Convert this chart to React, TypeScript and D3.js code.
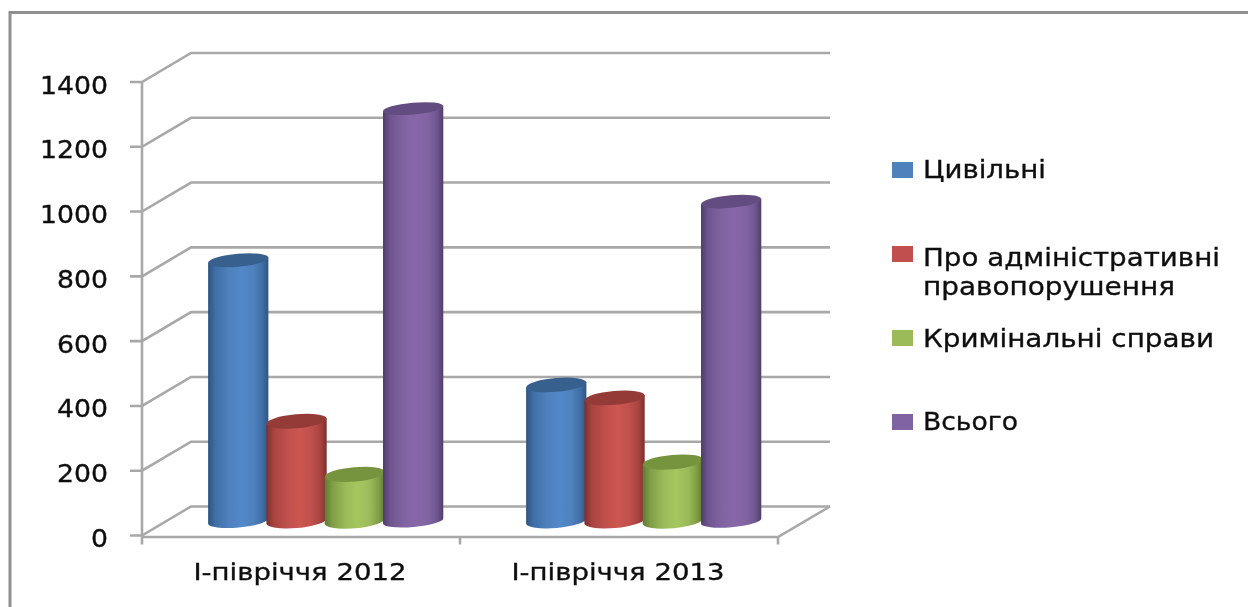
import React from "react";
import * as d3 from "d3";

const categories = ["І-півріччя 2012", "І-півріччя 2013"];
const seriesNames = ["Цивільні", "Про адміністративні правопорушення", "Кримінальні справи", "Всього"];
const civil = [805, 420];
const admin = [308, 380];
const criminal = [144, 182];
const total = [1273, 986];
const seriesValues = [civil, admin, criminal, total];
const tickValues = [0, 200, 400, 600, 800, 1000, 1200, 1400];
const base = ["#4f81bd", "#c0504d", "#9bbb59", "#8064a2"];
const light = ["#5288ca", "#cd5650", "#a5c65e", "#8866a9"];
const mid = ["#3f6ea6", "#a8433f", "#7f9c46", "#6f5690"];
const dark = ["#2f5480", "#7c2f2d", "#5f7a33", "#4f3d68"];
const topCol = ["#38618f", "#943a37", "#76933c", "#644d80"];

const W = 1248, H = 607;
const frontX0 = 142, frontX1 = 778;
const depthX = 49, depthY = -29;
const y = d3.scaleLinear().domain([0, 1400]).range([535.5, 82]);
const xGroup = d3.scaleBand<string>().domain(categories).range([frontX0, frontX1]);
const barW = 60.5;
const barOffsetX = 66;
const barDepthY = -14.5;
const legendY = [170, 254, 338, 422];
const legendBase = [[177.5], [266, 295], [347], [430]];
const legendLines = [["Цивільні"], ["Про адміністративні", "правопорушення"], ["Кримінальні справи"], ["Всього"]];
const legendW = [[123], [297, 252], [291], [95]];
const gridC = "#a8a8a8";
const fontF = "'DejaVu Sans', Verdana, sans-serif";
const tilt = -5;

export default function App() {
  const line = d3.line();
  const ticksX = [frontX0, ...categories.map((c) => (xGroup(c) as number) + xGroup.bandwidth())];
  const rad = (tilt * Math.PI) / 180;
  return (
    <svg width={W} height={H} viewBox={`0 0 ${W} ${H}`}
      style={{ position: "absolute", left: 0, top: 0, background: "#fff" }}>
      <defs>
        {base.map((_, i) => (
          <linearGradient key={i} id={`g${i}`} x1="0" x2="1" y1="0" y2="0">
            <stop offset="0" stopColor={dark[i]} />
            <stop offset="0.12" stopColor={mid[i]} />
            <stop offset="0.35" stopColor={base[i]} />
            <stop offset="0.55" stopColor={light[i]} />
            <stop offset="0.75" stopColor={base[i]} />
            <stop offset="0.9" stopColor={mid[i]} />
            <stop offset="1" stopColor={dark[i]} />
          </linearGradient>
        ))}
        <filter id="soft" x="-5%" y="-5%" width="110%" height="110%">
          <feGaussianBlur stdDeviation="0.5" />
        </filter>
      </defs>
      <path d={`M10,607 L10,12.5 L1248,12.5`} fill="none" stroke="#8f8f8f" strokeWidth={3} />
      <g stroke={gridC} strokeWidth={2.6} fill="none" filter="url(#soft)">
        <path d={line([[frontX0, y(0) + 1], [frontX0, y(1400)]]) as string} />
        {tickValues.map((t) => (
          <path key={t} d={line([[frontX0 - 12, y(t)], [frontX0, y(t)], [frontX0 + depthX, y(t) + depthY], [830, y(t) + depthY]]) as string} />
        ))}
        <path d={line([[frontX0, y(0) + 1.5], [frontX1, y(0) + 1.5], [830, y(0) + depthY]]) as string} />
        {ticksX.map((t) => (
          <path key={t} d={line([[t, y(0) + 1], [t, y(0) + 9]]) as string} />
        ))}
      </g>
      {categories.map((c, ci) =>
        seriesValues.map((vals, si) => {
          const x0 = (xGroup(c) as number) + barOffsetX + si * 58.3;
          const rx = barW / 2;
          const cx = x0 + rx;
          const yBase = y(0) + barDepthY;
          const yTop = y(vals[ci]) + barDepthY;
          const ry = 5.8 + 1.6 * (1 - vals[ci] / 1400);
          const dx = rx * Math.cos(rad), dy = rx * Math.sin(rad);
          return (
            <g key={`${ci}-${si}`} filter="url(#soft)">
              <path
                d={`M${cx - dx},${yTop - dy} L${cx - dx},${yBase - dy} A${rx},${ry} ${tilt} 0 0 ${cx + dx},${yBase + dy} L${cx + dx},${yTop + dy} Z`}
                fill={`url(#g${si})`}
              />
              <ellipse cx={cx} cy={yTop} rx={rx} ry={ry} fill={topCol[si]} transform={`rotate(${tilt} ${cx} ${yTop})`} />
            </g>
          );
        })
      )}
      <g filter="url(#soft)" fontFamily={fontF} fill="#111" stroke="#111" strokeWidth={0.35}>
        {tickValues.map((t) => {
          const s = String(t);
          return (
            <text key={t} x={108} y={y(t) + 11.5} textAnchor="end" fontSize={24.5} textLength={s.length * 17} lengthAdjust="spacingAndGlyphs">{s}</text>
          );
        })}
        {categories.map((c) => (
          <text key={c} x={(xGroup(c) as number) + xGroup.bandwidth() / 2 - 1} y={580} textAnchor="middle" fontSize={23} textLength={213} lengthAdjust="spacingAndGlyphs">{c}</text>
        ))}
        {seriesNames.map((n, i) => (
          <g key={n}>
            <rect x={892} y={legendY[i] - 8} width={21} height={16} fill={base[i]} stroke="none" />
            {legendLines[i].map((l, j) => (
              <text key={l} x={923} y={legendBase[i][j]} fontSize={24.5} textLength={legendW[i][j]} lengthAdjust="spacingAndGlyphs">{l}</text>
            ))}
          </g>
        ))}
      </g>
    </svg>
  );
}
